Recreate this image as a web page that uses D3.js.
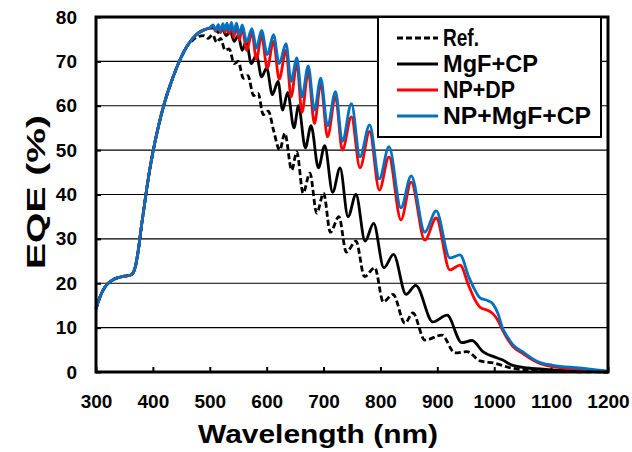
<!DOCTYPE html>
<html>
<head>
<meta charset="utf-8">
<script src="https://cdn.jsdelivr.net/npm/d3@7"></script>
<style>
body{margin:0;background:#fff}
svg{font-family:Arial,"Liberation Sans",sans-serif;font-weight:bold}
</style>
</head>
<body>
<svg width="632" height="452"></svg>
<script>
// shared part of all four curves (they overlap below ~460 nm)
var baseWl=[300,305,310,315,320,330,340,350,360,365,370,375,380,385,390,395,400,410,420,430,440,450,460];
var baseEqe=[14.2,16.2,17.8,19,19.8,20.8,21.3,21.6,21.8,22.3,24.2,28,33,37.5,42,46,49.5,55.5,60.5,64.5,68,71,73.4];

var refWl=[470,480,490,497,505,512,519,527,534,543,550,559,567,577,585,594,603,612,623,632,644,653,664,676,688,700,712,727,740,757,772,790,805,822,843,857,878,908,931,952,975,1000,1030,1060,1100,1150,1200];
var refEqe=[74.8,75.6,75.8,75.2,76,74.3,75.2,72.5,72.8,69.5,70,66.2,66.8,62.3,62.8,58,58.8,54.5,50,53.8,45.5,49.6,40.3,44.8,35.8,40.3,31.5,35,27,29.5,21.5,23.5,15.8,17.5,11,13.3,7.2,8.3,4.3,4.6,2.5,2,0.9,0.4,0.2,0.05,0];

var mgfWl=[470,480,490,500,508,515,522,529,536,543,550,557,564,573,582,591,600,610,620,628,637,648,656,668,678,691,702,716,729,743,757,773,788,806,823,845,862,892,917,943,961,980,1000,1015,1030,1060,1100,1150,1200];
var mgfEqe=[75.2,76.4,77.1,77.5,77.5,76.5,77.3,75.8,76.8,74.5,75.8,72.5,74.5,69.5,71.5,66.5,68.5,62.5,65.5,59,63,55,60,50.5,55.5,46,51,40.5,46,35,40,29.5,33.5,23.5,26.5,17.5,19.5,11.3,12.8,6.6,7.1,4.6,3.4,2.7,1.6,0.9,0.5,0.2,0];

var npdpWl=[470,480,490,500,506,510,515,519,523,527,530,534,538,542,547,552,557,565,574,582,591,601,612,622,634,643,653,662,673,684,695,707,721,733,749,764,781,798,815,836,854,878,898,922,940,955,966,975,990,998,1007,1014,1024,1033,1051,1065,1077,1103,1150,1200];
var npdpEqe=[75.2,76.4,77.1,77.5,78,76.8,78,76.5,78.2,76.5,78.2,76.3,78.3,75.5,78,74.8,77.5,72.5,76.5,70.5,75.8,68.5,74.5,66,72.5,62,69.6,58.5,67.7,56,65,53,62,50,57.5,46,54.2,41,48.5,34.3,42.8,29.7,34.7,23,24.1,19.5,16.3,14.6,13.8,13.1,11.5,9.6,7.3,5.7,4.1,2.9,2.1,1.2,0.6,0.1];

var npmgfWl=[470,480,490,500,506,510,515,519,523,527,530,534,538,542,547,552,557,565,574,582,591,601,612,622,634,643,653,662,673,684,695,707,721,733,749,764,781,798,815,836,854,878,898,922,940,955,966,975,990,998,1007,1014,1024,1033,1051,1065,1077,1103,1150,1200];
var npmgfEqe=[75.2,76.4,77.1,77.6,78.2,77,78.3,76.8,78.5,77,78.6,77,78.8,76.5,78.6,76,78.2,74.4,77.4,73,77,71.5,76,69.5,74,65.5,70.8,62,69,59,66.2,55.5,63.2,52,60.5,48.5,55.7,43.5,50.8,37,44.2,31.5,36.3,25.7,26.4,21.5,18.5,16.7,16,15.3,13,10.1,7.8,6.1,4.5,3.2,2.3,1.5,0.9,0.2];

var xTicks=[300,400,500,600,700,800,900,1000,1100,1200];
var yTicks=[0,10,20,30,40,50,60,70,80];
var seriesNames=["Ref.","MgF+CP","NP+DP","NP+MgF+CP"];
var seriesColors=["#000000","#000000","#ff0000","#0070c0"];

function joinData(wl,eqe){
    var pts=[];
    for(var i=0;i<baseWl.length;i++){ pts.push([baseWl[i],baseEqe[i]]); }
    for(var j=0;j<wl.length;j++){ pts.push([wl[j],eqe[j]]); }
    return pts;
}
var allSeries=[joinData(refWl,refEqe),joinData(mgfWl,mgfEqe),joinData(npdpWl,npdpEqe),joinData(npmgfWl,npmgfEqe)];

var svg=d3.select('svg');
var x=d3.scaleLinear().domain([300,1200]).range([96,608]);
var y=d3.scaleLinear().domain([0,80]).range([372,17]);

// horizontal grid
svg.append('g').selectAll('line')
    .data(yTicks.slice(1,-1))
    .enter().append('line')
    .attr('x1',96).attr('x2',608)
    .attr('y1',function(d){return y(d);})
    .attr('y2',function(d){return y(d);})
    .style('stroke','#000').style('stroke-width',1.2);

var xAxis=svg.append('g').attr('transform','translate(0,372)')
    .call(d3.axisBottom(x).tickValues(xTicks).tickSize(-5).tickPadding(23).tickFormat(d3.format('d')));
var yAxis=svg.append('g').attr('transform','translate(96,0)')
    .call(d3.axisLeft(y).tickValues(yTicks).tickSize(-5).tickPadding(19));
[xAxis,yAxis].forEach(function(a){
    a.select('.domain').remove();
    a.selectAll('line').style('stroke','#000').style('stroke-width',2);
    a.selectAll('text').style('font-size','19px').style('font-family','Arial, "Liberation Sans", sans-serif').style('font-weight','bold').style('fill','#000');
});

var line=d3.line()
    .x(function(d){return x(d[0]);})
    .y(function(d){return y(d[1]);})
    .curve(d3.curveMonotoneX);

for(var s=0;s<allSeries.length;s++){
    svg.append('path')
    .attr('d',line(allSeries[s]))
    .style('fill','none')
    .style('stroke',seriesColors[s])
    .style('stroke-width',2.8)
    .style('stroke-dasharray',s==0?'6,3':null);
}

// frame
svg.append('rect')
    .attr('x',96).attr('y',17).attr('width',512).attr('height',355)
    .style('fill','none').style('stroke','#000').style('stroke-width',3);

// legend
var lg=svg.append('g');
lg.append('rect')
    .attr('x',378).attr('y',17).attr('width',223).attr('height',120)
    .style('fill','#fff').style('stroke','#000').style('stroke-width',2);
var legendWidths=[36,95,72,148];
for(var k=0;k<seriesNames.length;k++){
    var by=46+k*26;
    lg.append('line')
    .attr('x1',397).attr('x2',438)
    .attr('y1',by-8).attr('y2',by-8)
    .style('stroke',seriesColors[k]).style('stroke-width',2.8)
    .style('stroke-dasharray',k==0?'6,3':null);
    lg.append('text')
    .attr('x',443).attr('y',by)
    .attr('textLength',legendWidths[k]).attr('lengthAdjust','spacingAndGlyphs')
    .style('font-size','23px')
    .text(seriesNames[k]);
}

svg.append('text')
    .attr('x',318).attr('y',443)
    .attr('text-anchor','middle')
    .attr('textLength',240).attr('lengthAdjust','spacingAndGlyphs')
    .style('font-size','26px')
    .text('Wavelength (nm)');

svg.append('text')
    .attr('transform','translate(45,192) rotate(-90)')
    .attr('text-anchor','middle')
    .attr('textLength',154).attr('lengthAdjust','spacingAndGlyphs')
    .style('font-size','26px')
    .text('EQE (%)');
</script>
</body>
</html>
